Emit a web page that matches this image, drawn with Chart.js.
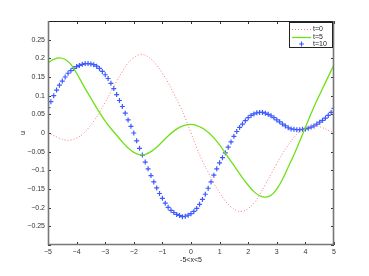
<!DOCTYPE html>
<html>
<head>
<meta charset="utf-8">
<script src="https://cdn.jsdelivr.net/npm/chart.js@4.4.0/dist/chart.umd.min.js"></script>
<style>
  body { margin: 0; background: #fff; }
</style>
</head>
<body>
<canvas id="grafico" width="369" height="276"></canvas>
<script>
// x grid of the two line series (step 0.2)
const xLinha = [-5, -4.8, -4.6, -4.4, -4.2, -4, -3.8, -3.6, -3.4, -3.2, -3, -2.8, -2.6, -2.4, -2.2, -2, -1.8, -1.6, -1.4, -1.2, -1, -0.8, -0.6, -0.4, -0.2,
  0, 0.2, 0.4, 0.6, 0.8, 1, 1.2, 1.4, 1.6, 1.8, 2, 2.2, 2.4, 2.6, 2.8, 3, 3.2, 3.4, 3.6, 3.8, 4, 4.2, 4.4, 4.6, 4.8, 5];

const uT0 = [0, -0.007, -0.014, -0.019, -0.019, -0.014, -0.004, 0.012, 0.032, 0.055, 0.082, 0.110, 0.138, 0.165, 0.188, 0.202, 0.210, 0.208, 0.198, 0.182, 0.160, 0.135, 0.105, 0.075, 0.040,
  0, -0.040, -0.075, -0.105, -0.135, -0.160, -0.182, -0.198, -0.208, -0.210, -0.202, -0.188, -0.165, -0.138, -0.110, -0.082, -0.055, -0.032, -0.012, 0.004, 0.014, 0.019, 0.019, 0.014, 0.007, 0];

const uT5 = [0.188, 0.197, 0.201, 0.197, 0.184, 0.160, 0.133, 0.106, 0.080, 0.055, 0.032, 0.012, -0.006, -0.024, -0.040, -0.052, -0.058, -0.057, -0.050, -0.038, -0.023, -0.008, 0.005, 0.015, 0.021,
  0.023, 0.020, 0.013, 0.002, -0.013, -0.032, -0.054, -0.076, -0.098, -0.120, -0.140, -0.157, -0.168, -0.172, -0.167, -0.150, -0.124, -0.091, -0.058, -0.022, 0.015, 0.052, 0.087, 0.119, 0.151, 0.183];

// x grid of the marker series (step 0.1)
const xPontos = [-5, -4.9, -4.8, -4.7, -4.6, -4.5, -4.4, -4.3, -4.2, -4.1, -4, -3.9, -3.8, -3.7, -3.6, -3.5, -3.4, -3.3, -3.2, -3.1,
  -3, -2.9, -2.8, -2.7, -2.6, -2.5, -2.4, -2.3, -2.2, -2.1, -2, -1.9, -1.8, -1.7, -1.6, -1.5, -1.4, -1.3, -1.2, -1.1,
  -1, -0.9, -0.8, -0.7, -0.6, -0.5, -0.4, -0.3, -0.2, -0.1, 0, 0.1, 0.2, 0.3, 0.4, 0.5, 0.6, 0.7, 0.8, 0.9,
  1, 1.1, 1.2, 1.3, 1.4, 1.5, 1.6, 1.7, 1.8, 1.9, 2, 2.1, 2.2, 2.3, 2.4, 2.5, 2.6, 2.7, 2.8, 2.9,
  3, 3.1, 3.2, 3.3, 3.4, 3.5, 3.6, 3.7, 3.8, 3.9, 4, 4.1, 4.2, 4.3, 4.4, 4.5, 4.6, 4.7, 4.8, 4.9, 5];

const uT10 = [0.068, 0.084, 0.100, 0.115, 0.128, 0.139, 0.150, 0.160, 0.167, 0.173, 0.178, 0.181, 0.184, 0.186, 0.186, 0.185, 0.183, 0.179, 0.173, 0.165,
  0.156, 0.146, 0.133, 0.119, 0.103, 0.087, 0.071, 0.053, 0.035, 0.018, 0.000, -0.021, -0.041, -0.059, -0.078, -0.096, -0.114, -0.131, -0.147, -0.162,
  -0.175, -0.188, -0.199, -0.207, -0.213, -0.218, -0.221, -0.224, -0.223, -0.220, -0.216, -0.210, -0.202, -0.191, -0.178, -0.164, -0.148, -0.131, -0.113, -0.096,
  -0.080, -0.066, -0.053, -0.038, -0.024, -0.009, 0.004, 0.015, 0.024, 0.033, 0.041, 0.047, 0.051, 0.054, 0.055, 0.055, 0.053, 0.050, 0.046, 0.041,
  0.035, 0.030, 0.024, 0.019, 0.014, 0.011, 0.010, 0.009, 0.009, 0.010, 0.011, 0.013, 0.016, 0.019, 0.024, 0.029, 0.034, 0.040, 0.047, 0.055, 0.066];

const rotulos = ['t=0', 't=5', 't=10'];
const tituloX = '-5<x<5';
const tituloY = 'u';

function pares(xs, ys) {
  return xs.map((x, i) => ({ x: x, y: ys[i] }));
}

const fonte = { family: 'Liberation Sans', size: 7 };

function formata(v) {
  const s = String(parseFloat(v.toFixed(2)));
  return s.replace('-', '\u2212');
}

// inward tick marks, plot box, axis titles and the boxed legend
const moldura = {
  id: 'moldura',
  afterDraw(chart) {
    const ctx = chart.ctx;
    const a = chart.chartArea;
    const sx = chart.scales.x, sy = chart.scales.y;
    ctx.save();
    ctx.strokeStyle = '#333';
    ctx.lineWidth = 1;
    ctx.beginPath();
    sx.ticks.forEach(t => {
      const px = Math.round(sx.getPixelForValue(t.value)) + 0.5;
      ctx.moveTo(px, a.bottom); ctx.lineTo(px, a.bottom - 3);
      ctx.moveTo(px, a.top); ctx.lineTo(px, a.top + 3);
    });
    sy.ticks.forEach(t => {
      const py = Math.round(sy.getPixelForValue(t.value)) + 0.5;
      ctx.moveTo(a.left, py); ctx.lineTo(a.left + 3, py);
      ctx.moveTo(a.right, py); ctx.lineTo(a.right - 3, py);
    });
    ctx.stroke();

    // box: thin top, heavier grey left/right/bottom as in the original
    ctx.strokeStyle = '#222';
    ctx.beginPath();
    ctx.moveTo(a.left, a.top + 0.5); ctx.lineTo(a.right, a.top + 0.5);
    ctx.stroke();
    ctx.strokeStyle = '#777';
    ctx.lineWidth = 1.6;
    ctx.beginPath();
    ctx.moveTo(a.left + 0.5, a.top); ctx.lineTo(a.left + 0.5, a.bottom - 0.5);
    ctx.lineTo(a.right - 0.5, a.bottom - 0.5); ctx.lineTo(a.right - 0.5, a.top);
    ctx.stroke();
    ctx.lineWidth = 1;

    ctx.fillStyle = '#222';
    ctx.font = '7px "Liberation Sans"';
    ctx.textAlign = 'center';
    ctx.textBaseline = 'middle';
    ctx.fillText(tituloX, (a.left + a.right) / 2, 260);
    ctx.save();
    ctx.translate(23, (a.top + a.bottom) / 2);
    ctx.rotate(-Math.PI / 2);
    ctx.fillText(tituloY, 0, 0);
    ctx.restore();

    // legend
    const lx = 289, ly = 22, lw = 44, lh = 26;
    ctx.fillStyle = '#fff';
    ctx.fillRect(lx, ly, lw, lh);
    ctx.strokeStyle = '#222';
    ctx.strokeRect(lx + 0.5, ly + 0.5, lw - 1, lh - 1);
    const ds = chart.data.datasets;
    const linhasY = [29, 37, 44];
    ds.forEach((d, i) => {
      const y = linhasY[i];
      ctx.save();
      if (d.showLine) {
        ctx.strokeStyle = d.borderColor;
        ctx.lineWidth = d.borderWidth;
        ctx.setLineDash(d.borderDash || []);
        ctx.beginPath();
        ctx.moveTo(292, y + 0.5); ctx.lineTo(311, y + 0.5);
        ctx.stroke();
      } else {
        ctx.strokeStyle = d.borderColor;
        ctx.lineWidth = 1.2;
        ctx.beginPath();
        ctx.moveTo(299, y); ctx.lineTo(304, y);
        ctx.moveTo(301.5, y - 2.5); ctx.lineTo(301.5, y + 2.5);
        ctx.stroke();
      }
      ctx.restore();
      ctx.fillStyle = '#222';
      ctx.textAlign = 'left';
      ctx.fillText(d.label, 313, y);
    });
    ctx.restore();
  }
};

new Chart(document.getElementById('grafico'), {
  type: 'scatter',
  data: {
    datasets: [
      {
        label: rotulos[0],
        data: pares(xLinha, uT0),
        showLine: true,
        borderColor: 'rgb(255, 120, 120)',
        borderWidth: 1,
        borderDash: [1, 2],
        pointRadius: 0,
        tension: 0.4
      },
      {
        label: rotulos[1],
        data: pares(xLinha, uT5),
        showLine: true,
        borderColor: 'rgb(110, 225, 20)',
        borderWidth: 1.3,
        pointRadius: 0,
        tension: 0.4
      },
      {
        label: rotulos[2],
        data: pares(xPontos, uT10),
        showLine: false,
        pointStyle: 'cross',
        pointRadius: 2.5,
        borderColor: 'rgb(60, 90, 255)',
        backgroundColor: 'rgb(60, 90, 255)',
        pointBorderWidth: 1.2
      }
    ]
  },
  options: {
    responsive: false,
    animation: false,
    layout: { padding: { top: 21, right: 35, left: 0, bottom: 0 } },
    plugins: { legend: { display: false }, tooltip: { enabled: false } },
    scales: {
      x: {
        type: 'linear',
        min: -5,
        max: 5,
        grid: { display: false, drawTicks: false },
        border: { display: false },
        afterFit(s) { s.height = 31; },
        ticks: { stepSize: 1, font: fonte, color: '#333', padding: 3, maxRotation: 0, callback: v => formata(v) }
      },
      y: {
        min: -0.3,
        max: 0.3,
        grid: { display: false, drawTicks: false },
        border: { display: false },
        afterFit(s) { s.width = 48; },
        ticks: {
          stepSize: 0.05, font: fonte, color: '#333', padding: 3,
          callback: v => (Math.abs(Math.abs(v) - 0.3) < 1e-6 ? '' : formata(v))
        }
      }
    }
  },
  plugins: [moldura]
});
</script>
</body>
</html>
